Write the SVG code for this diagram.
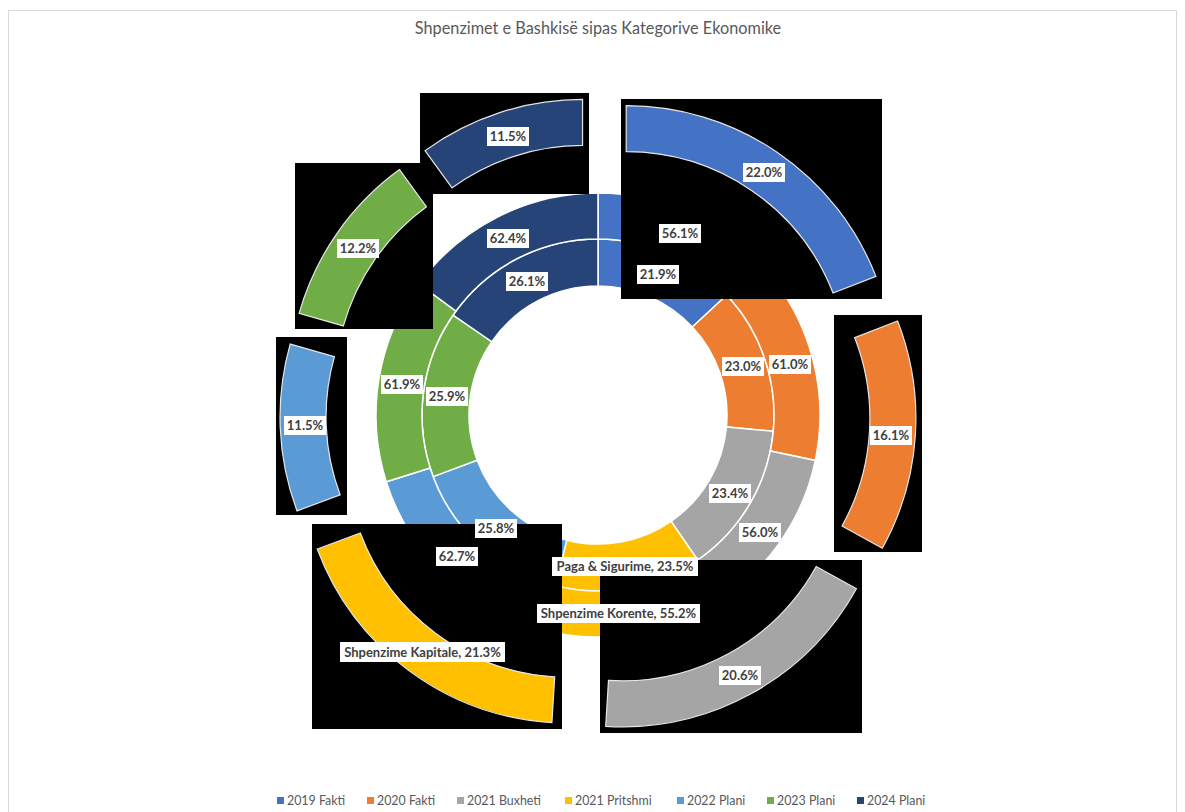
<svg xmlns="http://www.w3.org/2000/svg" width="1185" height="812" viewBox="0 0 1185 812">
<style>
.t{font-family:Lato,"Liberation Sans",sans-serif}
.ttl{font-size:16.3px;fill:#595959}
.lg{font-size:12.4px;fill:#595959}
.lb{font-size:13px;font-weight:bold;fill:#404040}
.box{fill:#ffffff}
.seg{stroke:#ffffff;stroke-width:1.5}
.oseg{stroke:#e6e6e6;stroke-width:1.2}
.bk{fill:#000000}
.c1{fill:#4472C4}.c2{fill:#ED7D31}.c3{fill:#A5A5A5}.c4{fill:#FFC000}.c5{fill:#5B9BD5}.c6{fill:#70AD47}.c7{fill:#264478}
</style>
<rect x="0" y="0" width="1185" height="812" fill="#ffffff"/>
<rect x="8.5" y="10.5" width="1168" height="830" fill="none" stroke="#d9d9d9" stroke-width="1"/>
<text class="t ttl" x="598" y="34" text-anchor="middle">Shpenzimet e Bashkisë sipas Kategorive Ekonomike</text>

<g id="ring-paga">
<path class="seg c1" d="M598,239 A176,176 0 0 1 726.73,294.97 L692.35,327.02 A129,129 0 0 0 598,286 Z"/>
<path class="seg c2" d="M726.73,294.97 A176,176 0 0 1 773.24,431.26 L726.45,426.92 A129,129 0 0 0 692.35,327.02 Z"/>
<path class="seg c3" d="M773.24,431.26 A176,176 0 0 1 697.69,560.04 L671.07,521.31 A129,129 0 0 0 726.45,426.92 Z"/>
<path class="seg c4" d="M697.69,560.04 A176,176 0 0 1 555.43,585.77 L566.79,540.17 A129,129 0 0 0 671.07,521.31 Z"/>
<path class="seg c5" d="M555.43,585.77 A176,176 0 0 1 433.14,476.64 L477.17,460.18 A129,129 0 0 0 566.79,540.17 Z"/>
<path class="seg c6" d="M433.14,476.64 A176,176 0 0 1 453.13,315.07 L491.82,341.75 A129,129 0 0 0 477.17,460.18 Z"/>
<path class="seg c7" d="M453.13,315.07 A176,176 0 0 1 598,239 L598,286 A129,129 0 0 0 491.82,341.75 Z"/>
</g>

<g id="ring-korente">
<path class="seg c1" d="M598,193 A222,222 0 0 1 764.52,268.19 L730.02,298.61 A176,176 0 0 0 598,239 Z"/>
<path class="seg c2" d="M764.52,268.19 A222,222 0 0 1 815.32,460.4 L770.29,450.99 A176,176 0 0 0 730.02,298.61 Z"/>
<path class="seg c3" d="M815.32,460.4 A222,222 0 0 1 708,607.83 L685.21,567.87 A176,176 0 0 0 770.29,450.99 Z"/>
<path class="seg c4" d="M708,607.83 A222,222 0 0 1 531.24,626.72 L545.08,582.85 A176,176 0 0 0 685.21,567.87 Z"/>
<path class="seg c5" d="M531.24,626.72 A222,222 0 0 1 386.28,481.76 L430.15,467.92 A176,176 0 0 0 545.08,582.85 Z"/>
<path class="seg c6" d="M386.28,481.76 A222,222 0 0 1 418.85,283.89 L455.97,311.05 A176,176 0 0 0 430.15,467.92 Z"/>
<path class="seg c7" d="M418.85,283.89 A222,222 0 0 1 598,193 L598,239 A176,176 0 0 0 455.97,311.05 Z"/>
</g>

<g id="backgrounds">
<rect class="bk" x="420" y="93" width="169" height="101"/>
<rect class="bk" x="295" y="163" width="138" height="166"/>
<rect class="bk" x="276" y="337" width="71" height="178"/>
<rect class="bk" x="312" y="524" width="250" height="205"/>
<rect class="bk" x="600" y="560" width="262" height="173"/>
<rect class="bk" x="834" y="315" width="88" height="237"/>
<rect class="bk" x="621" y="99" width="261" height="200"/>
</g>

<g id="ring-kapitale">
<path id="k2019" class="oseg c1" d="M626.21,105.72 A268,268 0 0 1 875.91,276.36 L833.05,293.07 A222,222 0 0 0 626.21,151.72 Z"/>
<path id="k2020" class="oseg c2" d="M897.59,321 A268,268 0 0 1 882.28,548.29 L842.05,525.99 A222,222 0 0 0 854.73,337.71 Z"/>
<path id="k2021b" class="oseg c3" d="M856.44,588.77 A268,268 0 0 1 605.69,726.34 L608.5,680.42 A222,222 0 0 0 816.21,566.47 Z"/>
<path id="k2021p" class="oseg c4" d="M551.9,722.69 A268,268 0 0 1 317.22,549.04 L360.31,532.93 A222,222 0 0 0 554.71,676.77 Z"/>
<path id="k2022" class="oseg c5" d="M297,510.9 A268,268 0 0 1 290.17,344.07 L334.43,356.6 A222,222 0 0 0 340.09,494.79 Z"/>
<path id="k2023" class="oseg c6" d="M299.12,313.41 A268,268 0 0 1 399.46,169.58 L426.5,206.79 A222,222 0 0 0 343.38,325.94 Z"/>
<path id="k2024" class="oseg c7" d="M425.02,150.64 A268,268 0 0 1 582.55,99.45 L582.55,145.45 A222,222 0 0 0 452.06,187.85 Z"/>
</g>

<g id="labels" class="t lb" text-anchor="middle">
<rect class="box" x="487" y="127" width="42" height="19"/><text x="508" y="141">11.5%</text>
<rect class="box" x="337" y="239" width="42" height="19"/><text x="358" y="253">12.2%</text>
<rect class="box" x="487" y="229" width="42" height="19"/><text x="508" y="243">62.4%</text>
<rect class="box" x="506" y="272" width="42" height="19"/><text x="527" y="286">26.1%</text>
<rect class="box" x="743" y="163" width="42" height="19"/><text x="764" y="177">22.0%</text>
<rect class="box" x="659" y="224" width="42" height="19"/><text x="680" y="238">56.1%</text>
<rect class="box" x="637" y="265" width="42" height="19"/><text x="658" y="279">21.9%</text>
<rect class="box" x="722" y="357" width="42" height="19"/><text x="743" y="371">23.0%</text>
<rect class="box" x="769" y="355" width="42" height="19"/><text x="790" y="369">61.0%</text>
<rect class="box" x="709" y="484" width="42" height="19"/><text x="730" y="498">23.4%</text>
<rect class="box" x="739" y="523" width="42" height="19"/><text x="760" y="537">56.0%</text>
<rect class="box" x="381" y="375" width="42" height="19"/><text x="402" y="389">61.9%</text>
<rect class="box" x="426" y="387" width="42" height="19"/><text x="447" y="401">25.9%</text>
<rect class="box" x="475" y="519" width="42" height="19"/><text x="496" y="533">25.8%</text>
<rect class="box" x="436" y="547" width="42" height="19"/><text x="457" y="561">62.7%</text>
<rect class="box" x="870" y="426" width="42" height="19"/><text x="891" y="440">16.1%</text>
<rect class="box" x="284" y="416" width="42" height="19"/><text x="305" y="430">11.5%</text>
<rect class="box" x="719" y="666" width="42" height="19"/><text x="740" y="680">20.6%</text>
<rect class="box" x="552" y="557" width="146" height="19"/><text x="625" y="571">Paga &amp; Sigurime, 23.5%</text>
<rect class="box" x="537" y="604" width="163" height="19"/><text x="618.5" y="618">Shpenzime Korente, 55.2%</text>
<rect class="box" x="340" y="642" width="165" height="20"/><text x="422.5" y="657">Shpenzime Kapitale, 21.3%</text>
</g>

<g id="legend" class="t lg">
<rect class="c1" x="277" y="797" width="7" height="7"/><text x="287" y="805">2019 Fakti</text>
<rect class="c2" x="367" y="797" width="7" height="7"/><text x="377" y="805">2020 Fakti</text>
<rect class="c3" x="457" y="797" width="7" height="7"/><text x="467" y="805">2021 Buxheti</text>
<rect class="c4" x="565" y="797" width="7" height="7"/><text x="575" y="805">2021 Pritshmi</text>
<rect class="c5" x="677" y="797" width="7" height="7"/><text x="687" y="805">2022 Plani</text>
<rect class="c6" x="767" y="797" width="7" height="7"/><text x="777" y="805">2023 Plani</text>
<rect class="c7" x="857" y="797" width="7" height="7"/><text x="867" y="805">2024 Plani</text>
</g>
</svg>
